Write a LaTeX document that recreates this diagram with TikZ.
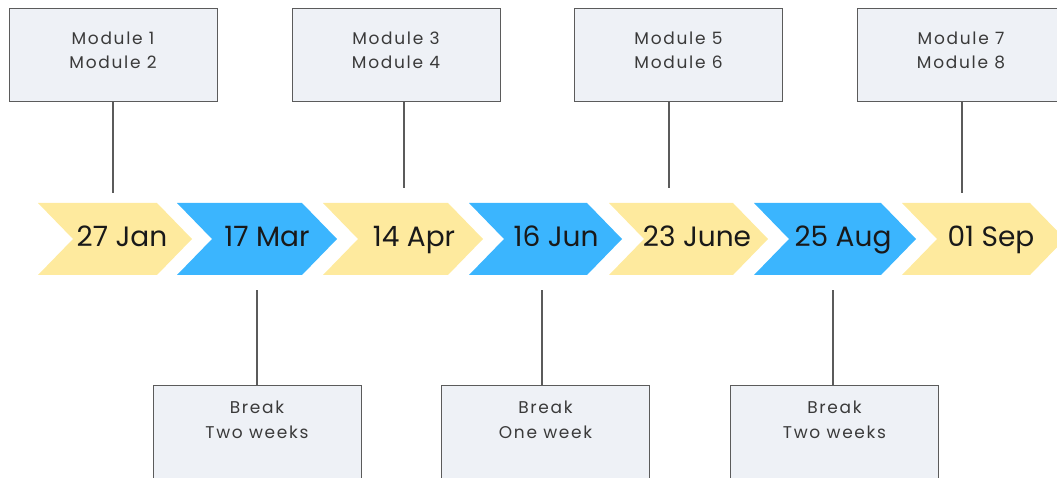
\documentclass[tikz,border=0pt]{standalone}
\usepackage{fontspec}
\setmainfont{Poppins}
\newfontfamily\boxfont[LetterSpace=10]{Poppins}
\usetikzlibrary{positioning}

\definecolor{chevyellow}{HTML}{FEEA9E}
\definecolor{chevblue}{HTML}{3BB5FE}
\definecolor{boxfill}{HTML}{EEF1F6}
\definecolor{boxline}{HTML}{5B5B5B}
\definecolor{boxtextcol}{HTML}{3A3A3A}

\tikzset{
  modbox/.style={draw=boxline, line width=1pt, fill=boxfill,
    minimum width=208pt, minimum height=93pt, inner sep=0pt},
  brkbox/.style={modbox, minimum height=120pt, anchor=north},
  boxlabel/.style={font=\boxfont\fontsize{17}{24.5}\selectfont,
    text=boxtextcol, align=center, inner sep=0pt, anchor=north},
  datelabel/.style={font=\fontsize{28}{30}\selectfont, text=black!90,
    inner sep=0pt, anchor=base},
  tick/.style={draw=boxline, line width=1.5pt}
}

% chevron: left edge, body width, colour
\newcommand{\chevshape}[3]{%
  \fill[#3] (#1,203) -- ++(#2,0) -- ++(35,36) -- ++(-35,36)
    -- ++(-#2,0) -- ++(35,-36) -- cycle;}

\begin{document}
\begin{tikzpicture}[x=1pt,y=-1pt]
  \path[use as bounding box] (0,0) rectangle (1057,478);
  \clip (0,0) rectangle (1057,478);

  % the arrow band
  \chevshape{38}{119}{chevyellow}
  \chevshape{177}{125}{chevblue}
  \chevshape{323}{125}{chevyellow}
  \chevshape{469}{118}{chevblue}
  \chevshape{609}{124}{chevyellow}
  \chevshape{754}{127}{chevblue}
  \chevshape{902}{128}{chevyellow}

  \node[datelabel] (d1) at (122,247) {27 Jan};
  \node[datelabel] (d2) at (267,247) {17 Mar};
  \node[datelabel] (d3) at (414,247) {14 Apr};
  \node[datelabel] (d4) at (556,247) {16 Jun};
  \node[datelabel] (d5) at (697,247) {23 June};
  \node[datelabel] (d6) at (843,247) {25 Aug};
  \node[datelabel] (d7) at (991,247) {01 Sep};

  % modules above
  \node[modbox] (m12) at (113,55.5) {};
  \node[modbox] (m34) at (396,55.5) {};
  \node[modbox] (m56) at (678.5,55.5) {};
  \node[modbox] (m78) at (961,55.5) {};
  \node[boxlabel, below=23pt of m12.north] (m12txt) {Module 1\\Module 2};
  \node[boxlabel, below=23pt of m34.north] (m34txt) {Module 3\\Module 4};
  \node[boxlabel, below=23pt of m56.north] (m56txt) {Module 5\\Module 6};
  \node[boxlabel, below=23pt of m78.north] (m78txt) {Module 7\\Module 8};

  % breaks below
  \node[brkbox] (b1) at (257,385) {};
  \node[brkbox] (b2) at (545.5,385) {};
  \node[brkbox] (b3) at (834.5,385) {};
  \node[boxlabel, below=16pt of b1.north] (b1txt) {Break\\Two weeks};
  \node[boxlabel, below=16pt of b2.north] (b2txt) {Break\\One week};
  \node[boxlabel, below=16pt of b3.north] (b3txt) {Break\\Two weeks};

  % ticks
  \coordinate (t1) at (113,193);
  \coordinate (t2) at (404,188);
  \coordinate (t3) at (669,188);
  \coordinate (t4) at (962,193);
  \coordinate (s1) at (257,290);
  \coordinate (s2) at (542,290);
  \coordinate (s3) at (833,290);
  \draw[tick] (m12.south -| t1) -- (t1);
  \draw[tick] (m34.south -| t2) -- (t2);
  \draw[tick] (m56.south -| t3) -- (t3);
  \draw[tick] (m78.south -| t4) -- (t4);
  \draw[tick] (s1) -- (b1.north -| s1);
  \draw[tick] (s2) -- (b2.north -| s2);
  \draw[tick] (s3) -- (b3.north -| s3);
\end{tikzpicture}
\end{document}
